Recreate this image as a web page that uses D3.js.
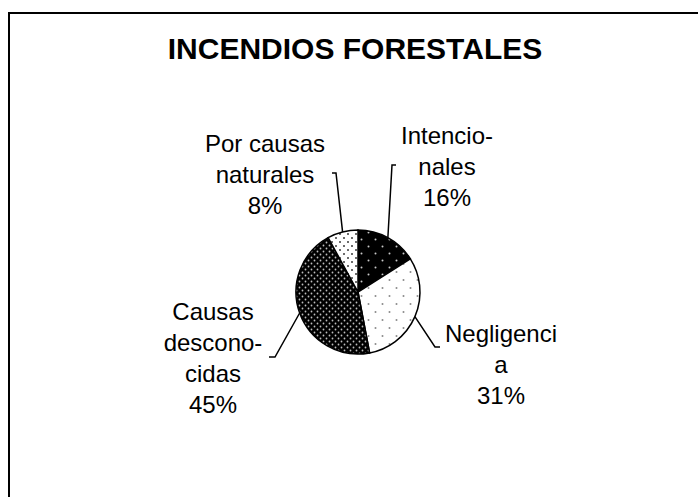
<!DOCTYPE html>
<html>
<head>
<meta charset="utf-8">
<script src="https://cdn.jsdelivr.net/npm/d3@7"></script>
<style>
  body { margin: 0; background: #fff; }
  svg { display: block; font-family: "Liberation Sans", Arial, sans-serif; }
</style>
</head>
<body>
<div id="chart"></div>
<script>
// data
var categories = ["Intencionales", "Negligencia", "Causas desconocidas", "Por causas naturales"];
var percents = [16, 31, 45, 8];
var labelLines = [
  ["Intencio-", "nales"],
  ["Negligenci", "a"],
  ["Causas", "descono-", "cidas"],
  ["Por causas", "naturales"]
];

var width = 698,
  height = 497;

var svg = d3.select("#chart")
  .append("svg")
  .attr("width", width)
  .attr("height", height);

var defs = svg.append("defs");

// fill patterns, one per slice
function makePattern(id, size, bg, dotColor, r, dots) {
  var p = defs.append("pattern")
    .attr("id", id)
    .attr("patternUnits", "userSpaceOnUse")
    .attr("width", size[0])
    .attr("height", size[1]);
  p.append("rect").attr("width", size[0]).attr("height", size[1]).attr("fill", bg);
  dots.forEach(function (d) {
    p.append("circle").attr("cx", d[0]).attr("cy", d[1]).attr("r", r).attr("fill", dotColor);
  });
}
makePattern("p0", [14, 14], "#000", "#c8c8c8", 1, [[3.5, 3.5], [10.5, 10.5]]);
makePattern("p1", [14, 16], "#fff", "#8a8a8a", 1, [[3.5, 4], [10.5, 12]]);
makePattern("p2", [6, 6], "#000", "#bdbdbd", 0.9, [[1.5, 1.5], [4.5, 4.5]]);
makePattern("p3", [8, 8], "#fff", "#3a3a3a", 1, [[2, 2], [6, 6]]);

// frame (runs off the right and bottom edges)
svg.append("rect")
  .attr("x", 9)
  .attr("y", 13)
  .attr("width", 760)
  .attr("height", 560)
  .attr("fill", "none")
  .attr("stroke", "#000")
  .attr("stroke-width", 2);

svg.append("text")
  .attr("x", 355)
  .attr("y", 59)
  .attr("text-anchor", "middle")
  .style("font-size", "30px")
  .style("font-weight", "bold")
  .text("INCENDIOS FORESTALES");

var cx = 358, cy = 292, radius = 62;

var pie = d3.pie().sort(null).value(function (d) { return d; });
var arcs = pie(percents);

var arc = d3.arc().innerRadius(0).outerRadius(radius);
var edge = d3.arc().innerRadius(radius).outerRadius(radius);

var g = svg.append("g").attr("transform", "translate(" + cx + "," + cy + ")");

g.selectAll("path")
  .data(arcs)
  .enter()
  .append("path")
  .attr("d", arc)
  .attr("fill", function (d, i) { return "url(#p" + i + ")"; })
  .attr("stroke", "#000")
  .attr("stroke-width", 1.5);

// label layout: text centre, first baseline, leader elbow, tick length
var labelLayout = [
  { x: 447, y: 144, elbow: [392, 165], tick: 4 },
  { x: 501, y: 342, elbow: [435, 347], tick: 5 },
  { x: 213, y: 320, elbow: [275, 357], tick: -6 },
  { x: 265, y: 152, elbow: [336, 173], tick: -4 }
];

arcs.forEach(function (d, i) {
  var L = labelLayout[i];
  var p = edge.centroid(d);
  var start = [p[0] + cx, p[1] + cy];
  svg.append("path")
    .attr("d", d3.line()([start, L.elbow, [L.elbow[0] + L.tick, L.elbow[1]]]))
    .attr("fill", "none")
    .attr("stroke", "#000")
    .attr("stroke-width", 1.5);

  var t = svg.append("text")
    .attr("text-anchor", "middle")
    .style("font-size", "24px");
  var lines = labelLines[i].concat([d.data + "%"]);
  lines.forEach(function (s, j) {
    t.append("tspan")
      .attr("x", L.x)
      .attr("y", L.y + j * 31)
      .text(s);
  });
});
</script>
</body>
</html>
